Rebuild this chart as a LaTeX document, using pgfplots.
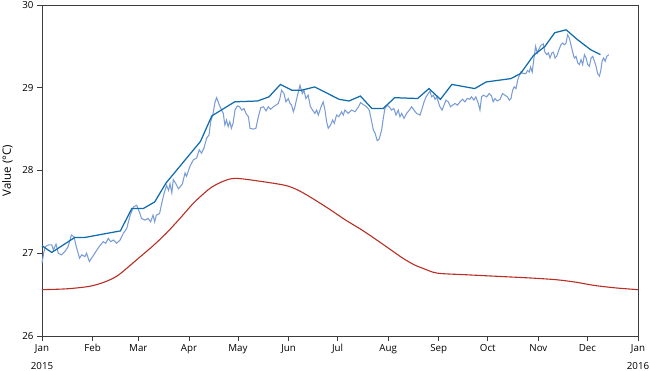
\documentclass[border=0pt]{standalone}
\usepackage{pgfplots}
\pgfplotsset{compat=1.18}
\usepackage{fontspec}
\setmainfont{Open Sans}
\definecolor{dblue}{RGB}{16,108,172}
\definecolor{lblue}{RGB}{122,156,214}
\definecolor{dred}{RGB}{182,46,36}
\definecolor{axgray}{RGB}{60,60,60}
\begin{document}
\begin{tikzpicture}
\begin{axis}[name=ax, scale only axis, width=596bp, height=331bp,
 xmin=0, xmax=365, ymin=26, ymax=30,
 xtick={0,31,59,90,120,151,181,212,243,273,304,334,365},
 xticklabels={{Jan\\[7bp]2015},Feb,Mar,Apr,May,Jun,Jul,Aug,Sep,Oct,Nov,Dec,{Jan\\[7bp]2016}},
 xticklabel style={align=center, font=\fontsize{9.8}{11}\selectfont, anchor=north},
 ytick={26,27,28,29,30},
 yticklabel style={font=\fontsize{9.8}{11}\selectfont},
 tick align=outside, xtick pos=bottom, ytick pos=left, major tick length=5bp,
 axis line style={draw=axgray, line width=0.8pt},
 every tick/.style={axgray, line width=0.8pt},
 ylabel={Value (°C)},
 ylabel style={font=\fontsize{11.5}{13}\selectfont, at={(axis description cs:-0.0579,0.5)}, anchor=center},
 /pgf/number format/assume math mode=true,
 clip=false,
]
\addplot[dred, line width=1.1pt, smooth, tension=0.5] coordinates {
(0,26.56) (15,26.57) (29,26.60) (38,26.65) (45.6,26.72) (52,26.82) (59.7,26.95) (68,27.09) (76,27.24) (84,27.41) (92.5,27.60) (99,27.72) (104,27.80) (111,27.87) (118,27.905) (130,27.88) (149,27.82) (158,27.75) (167.5,27.64) (177,27.52) (186,27.40) (196,27.28) (205,27.16) (213,27.05) (221,26.94) (228,26.86) (233,26.82) (242,26.76) (260,26.74) (280,26.72) (300,26.70) (315,26.68) (327,26.65) (338.6,26.61) (352,26.58) (365,26.56)
};
\addplot[lblue, line width=1.05pt] coordinates {
(0,26.88) (1,27.00) (2,27.08) (4,27.10) (6,27.10) (7,27.04) (8.6,27.11) (10,27.00) (12,26.98) (14,27.02) (16,27.08) (18,27.22) (19.6,27.20) (21,27.08) (23,26.94) (24.3,26.98) (26.3,26.96) (27.3,27.00) (29,26.90) (31,26.96) (33,27.02) (35,27.08) (37.5,27.14) (39,27.12) (40.6,27.18) (42,27.14) (43.7,27.16) (45.7,27.12) (47.8,27.16) (49.8,27.24) (51.9,27.30) (54,27.46) (56,27.56) (58,27.58) (59.6,27.50) (61,27.42) (63,27.40) (65,27.42) (66.5,27.38) (68,27.46) (69,27.38) (70,27.46) (72,27.48) (73.3,27.60) (74.7,27.72) (76.3,27.82) (77.5,27.76) (78.4,27.84) (79.5,27.73) (80.4,27.89) (82,27.84) (83.5,27.78) (84.5,27.80) (86,27.84) (87.6,27.97) (88.5,27.93) (90.6,28.05) (92.7,28.13) (94.7,28.15) (96.3,28.25) (97.7,28.21) (99.2,28.27) (100.8,28.39) (102.3,28.43) (103.3,28.59) (104.6,28.67) (106,28.83) (107,28.88) (108.6,28.79) (110,28.73) (111,28.69) (112,28.55) (113,28.61) (114,28.53) (115,28.59) (116,28.51) (117,28.57) (118.2,28.73) (119.6,28.78) (121,28.77) (122.3,28.73) (123.7,28.75) (124.9,28.69) (126.4,28.65) (127.4,28.51) (129.4,28.50) (131,28.51) (132.5,28.65) (134,28.76) (135.6,28.77) (137.2,28.72) (138.6,28.77) (140,28.74) (141.7,28.77) (143.3,28.79) (144.7,28.81) (145.7,28.87) (146.7,28.97) (148.2,28.93) (149.4,28.83) (150.8,28.87) (151.9,28.81) (152.9,28.79) (153.9,28.71) (154.9,28.77) (156,28.87) (158,29.03) (159.4,28.93) (160.4,28.97) (161.6,28.87) (163,28.91) (164.4,28.77) (165.7,28.73) (167.1,28.69) (168.2,28.73) (169.2,28.67) (170.9,28.77) (172.2,28.83) (173.3,28.73) (174.3,28.59) (175.3,28.51) (176.7,28.55) (178,28.61) (179,28.57) (180.4,28.67) (181.8,28.65) (183.5,28.71) (184.5,28.67) (185.5,28.73) (187.6,28.69) (189.6,28.73) (191.7,28.71) (193.8,28.77) (195.1,28.82) (197.2,28.79) (198.8,28.77) (200.4,28.73) (201.9,28.59) (202.9,28.49) (204,28.45) (205.3,28.36) (206.5,28.38) (208,28.49) (209,28.63) (210,28.75) (211.4,28.79) (212.6,28.77) (214.1,28.73) (215.5,28.75) (216.8,28.67) (218.2,28.73) (219.2,28.65) (220.3,28.69) (221.7,28.63) (223.3,28.69) (225,28.73) (226.4,28.77) (227.8,28.73) (229.4,28.69) (231.5,28.67) (232.5,28.73) (234,28.83) (235.2,28.89) (236.6,28.93) (237.6,28.96) (238.6,28.89) (239.7,28.91) (240.7,28.86) (241.7,28.89) (242.7,28.83) (243.7,28.77) (245,28.73) (246.2,28.79) (247.4,28.85) (248.8,28.83) (250.2,28.77) (251.4,28.79) (253,28.81) (254.4,28.79) (256,28.83) (257.6,28.86) (259,28.83) (260.4,28.87) (262,28.86) (263,28.89) (264.5,28.85) (265.7,28.89) (267.2,28.81) (268.2,28.73) (269.2,28.89) (270.3,28.91) (272.3,28.89) (273.9,28.93) (275.3,28.90) (276.3,28.83) (277.4,28.87) (278.8,28.84) (280.5,28.86) (282,28.93) (283.5,28.91) (285,28.89) (286.2,28.85) (287.2,28.87) (288.2,28.97) (289.2,29.01) (290.3,28.99) (291.3,29.09) (292.3,29.15) (293.3,29.19) (294.7,29.17) (296.3,29.17) (297.4,29.21) (298.4,29.19) (299.2,29.25) (300.2,29.19) (301.3,29.36) (302.3,29.50) (303.3,29.42) (304.4,29.47) (305.4,29.51) (307,29.53) (308,29.43) (309.1,29.40) (310.1,29.42) (311.1,29.36) (312.2,29.42) (313.2,29.43) (314.2,29.36) (315.2,29.38) (316.6,29.46) (317.8,29.52) (318.8,29.54) (319.9,29.52) (320.9,29.54) (321.9,29.64) (322.9,29.60) (323.9,29.52) (325,29.43) (326,29.36) (327,29.38) (328.1,29.30) (329.1,29.28) (330.1,29.34) (331.1,29.28) (332.2,29.40) (333.2,29.36) (334.2,29.28) (335.2,29.26) (336.3,29.36) (337.3,29.38) (338.3,29.32) (339.3,29.26) (340.3,29.17) (341.4,29.14) (342.2,29.21) (343,29.32) (343.9,29.36) (344.9,29.32) (345.9,29.38) (347.1,29.40)
};
\addplot[dblue, line width=1.25pt] coordinates {
(0,27.09) (6,27.01) (20,27.19) (26,27.19) (48,27.27) (55,27.54) (62,27.54) (69,27.62) (76,27.85) (97,28.35) (104,28.66) (118,28.83) (132,28.84) (139,28.89) (146,29.04) (153,28.97) (159,28.97) (167,29.01) (182,28.86) (188,28.84) (195,28.90) (202,28.75) (209,28.75) (216,28.88) (230,28.87) (237,28.99) (244,28.86) (251,29.04) (265,28.99) (272,29.07) (287,29.11) (293,29.17) (301,29.39) (308,29.50) (314,29.665) (321,29.70) (328,29.58) (336,29.46) (342,29.40)
};
\end{axis}
\pgfresetboundingbox
\path[use as bounding box] ([shift={(-42bp,-35bp)}]ax.south west) rectangle ([shift={(12bp,5bp)}]ax.north east);
\end{tikzpicture}
\end{document}
